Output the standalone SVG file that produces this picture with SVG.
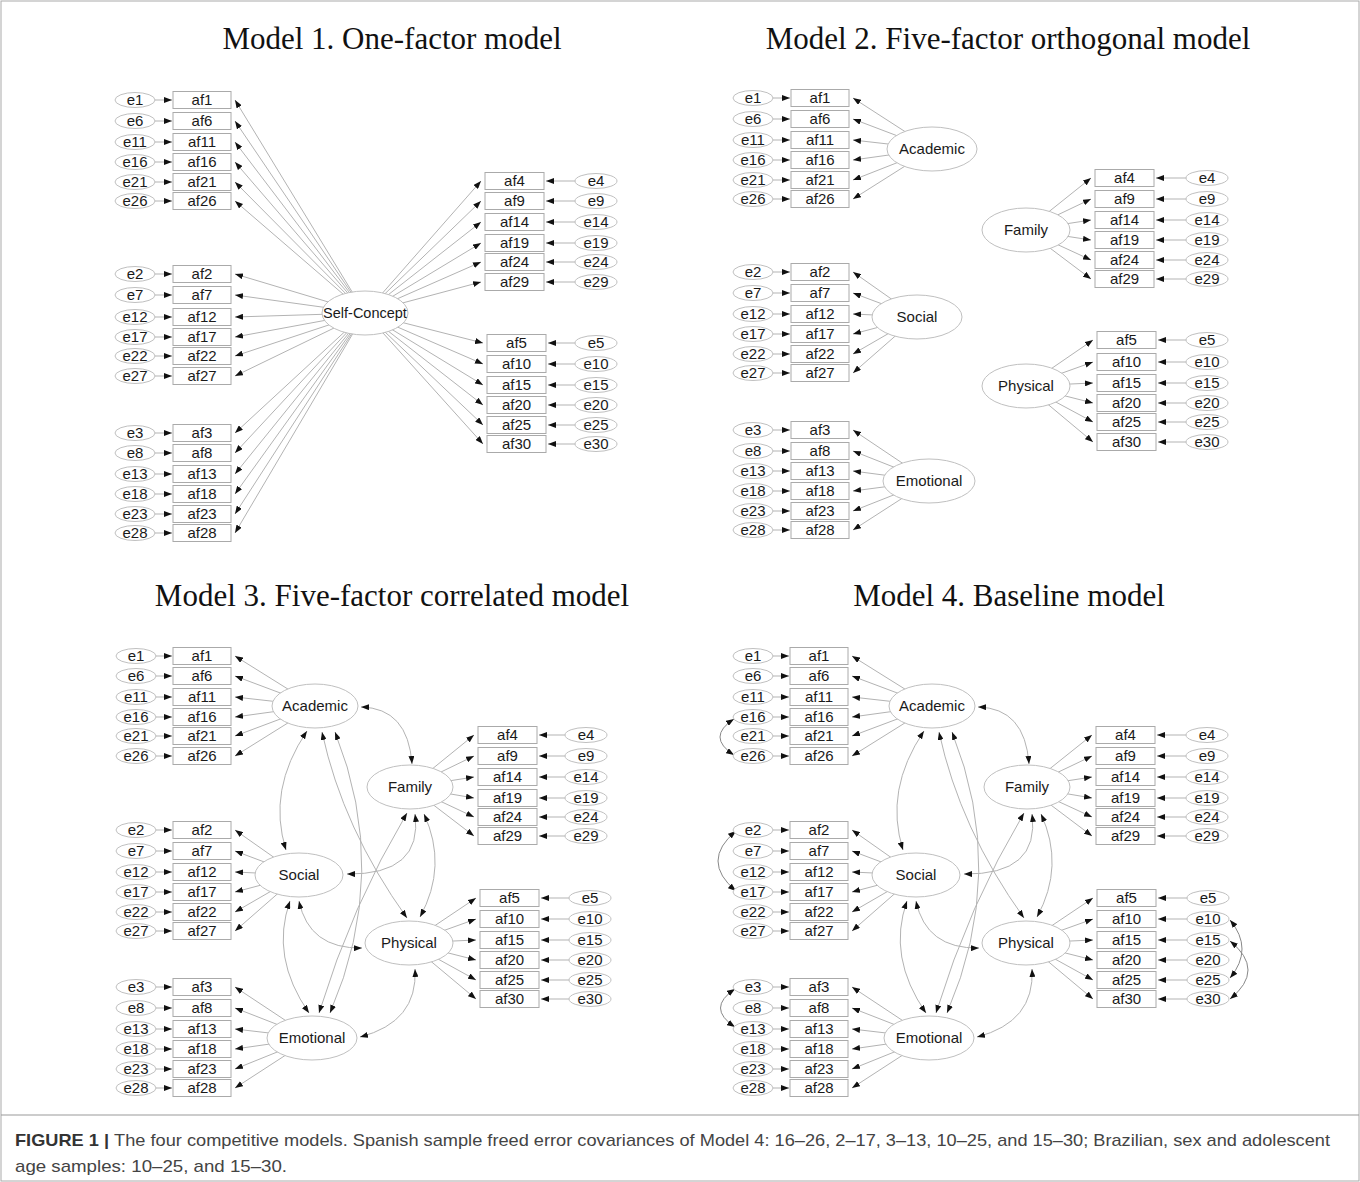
<svg xmlns="http://www.w3.org/2000/svg" width="1360" height="1182" viewBox="0 0 1360 1182">
<defs>
<marker id="ah" viewBox="0 0 8 6" refX="8" refY="3" markerWidth="8" markerHeight="6" markerUnits="userSpaceOnUse" orient="auto-start-reverse"><path d="M0,0L8,3L0,6z" fill="#111"/></marker>
<style>
.cn line,.cn path{stroke:#b3b3b3;stroke-width:1;fill:none;marker-end:url(#ah)}
.cn path.cv{marker-start:url(#ah)}
.cn path.ec{stroke:#888}
rect{fill:#fff;stroke:#aaa;stroke-width:1}
ellipse{fill:#fff;stroke:#c0c0c0;stroke-width:1}
text{font-family:"Liberation Sans",Arial,sans-serif;font-size:15px;fill:#1a1a1a;text-anchor:middle}
.f text{font-size:15px}
.ttl{font-family:"Liberation Serif","Times New Roman",serif;font-size:31px;fill:#111}
.cap{font-size:17px;text-anchor:start;fill:#444}
</style>
</defs>
<rect x="1" y="1" width="1358" height="1180" fill="#fff" stroke="#999"/>
<line x1="1" y1="1115" x2="1359" y2="1115" stroke="#999"/>
<text class="ttl" x="392" y="49">Model 1. One-factor model</text>
<text class="ttl" x="1008" y="49">Model 2. Five-factor orthogonal model</text>
<text class="ttl" x="392" y="606">Model 3. Five-factor correlated model</text>
<text class="ttl" x="1009" y="606">Model 4. Baseline model</text>

<!-- ================= MODEL 1 ================= -->
<g id="m1-connectors" class="cn">
<line x1="135" y1="100" x2="172" y2="100"/><line x1="365" y1="313" x2="235" y2="100"/>
<line x1="135" y1="121" x2="172" y2="121"/><line x1="365" y1="313" x2="235" y2="121"/>
<line x1="135" y1="142" x2="172" y2="142"/><line x1="365" y1="313" x2="235" y2="142"/>
<line x1="135" y1="162" x2="172" y2="162"/><line x1="365" y1="313" x2="235" y2="162"/>
<line x1="135" y1="182" x2="172" y2="182"/><line x1="365" y1="313" x2="235" y2="182"/>
<line x1="135" y1="201" x2="172" y2="201"/><line x1="365" y1="313" x2="235" y2="201"/>
<line x1="135" y1="274" x2="172" y2="274"/><line x1="365" y1="313" x2="235" y2="274"/>
<line x1="135" y1="295" x2="172" y2="295"/><line x1="365" y1="313" x2="235" y2="295"/>
<line x1="135" y1="317" x2="172" y2="317"/><line x1="365" y1="313" x2="235" y2="317"/>
<line x1="135" y1="337" x2="172" y2="337"/><line x1="365" y1="313" x2="235" y2="337"/>
<line x1="135" y1="356" x2="172" y2="356"/><line x1="365" y1="313" x2="235" y2="356"/>
<line x1="135" y1="376" x2="172" y2="376"/><line x1="365" y1="313" x2="235" y2="376"/>
<line x1="135" y1="433" x2="172" y2="433"/><line x1="365" y1="313" x2="235" y2="433"/>
<line x1="135" y1="453" x2="172" y2="453"/><line x1="365" y1="313" x2="235" y2="453"/>
<line x1="135" y1="474" x2="172" y2="474"/><line x1="365" y1="313" x2="235" y2="474"/>
<line x1="135" y1="494" x2="172" y2="494"/><line x1="365" y1="313" x2="235" y2="494"/>
<line x1="135" y1="514" x2="172" y2="514"/><line x1="365" y1="313" x2="235" y2="514"/>
<line x1="135" y1="533" x2="172" y2="533"/><line x1="365" y1="313" x2="235" y2="533"/>
<line x1="596" y1="181" x2="546" y2="181"/><line x1="365" y1="313" x2="481" y2="181"/>
<line x1="596" y1="201" x2="546" y2="201"/><line x1="365" y1="313" x2="481" y2="201"/>
<line x1="596" y1="222" x2="546" y2="222"/><line x1="365" y1="313" x2="481" y2="222"/>
<line x1="596" y1="243" x2="546" y2="243"/><line x1="365" y1="313" x2="481" y2="243"/>
<line x1="596" y1="262" x2="546" y2="262"/><line x1="365" y1="313" x2="481" y2="262"/>
<line x1="596" y1="282" x2="546" y2="282"/><line x1="365" y1="313" x2="481" y2="282"/>
<line x1="596" y1="343" x2="548" y2="343"/><line x1="365" y1="313" x2="483" y2="343"/>
<line x1="596" y1="364" x2="548" y2="364"/><line x1="365" y1="313" x2="483" y2="364"/>
<line x1="596" y1="385" x2="548" y2="385"/><line x1="365" y1="313" x2="483" y2="385"/>
<line x1="596" y1="405" x2="548" y2="405"/><line x1="365" y1="313" x2="483" y2="405"/>
<line x1="596" y1="425" x2="548" y2="425"/><line x1="365" y1="313" x2="483" y2="425"/>
<line x1="596" y1="444" x2="548" y2="444"/><line x1="365" y1="313" x2="483" y2="444"/>
</g>
<g id="m1-selfconcept" class="f"><ellipse cx="365" cy="313" rx="43" ry="22"/><text x="365" y="318" style="font-size:14.5px">Self-Concept</text></g>
<g id="m1-e1"><ellipse cx="135" cy="100" rx="20" ry="7.5"/><text x="135" y="105">e1</text></g><g id="m1-af1"><rect x="173" y="91.5" width="58" height="17"/><text x="202" y="105">af1</text></g>
<g id="m1-e6"><ellipse cx="135" cy="121" rx="20" ry="7.5"/><text x="135" y="126">e6</text></g><g id="m1-af6"><rect x="173" y="112.5" width="58" height="17"/><text x="202" y="126">af6</text></g>
<g id="m1-e11"><ellipse cx="135" cy="142" rx="20" ry="7.5"/><text x="135" y="147">e11</text></g><g id="m1-af11"><rect x="173" y="133.5" width="58" height="17"/><text x="202" y="147">af11</text></g>
<g id="m1-e16"><ellipse cx="135" cy="162" rx="20" ry="7.5"/><text x="135" y="167">e16</text></g><g id="m1-af16"><rect x="173" y="153.5" width="58" height="17"/><text x="202" y="167">af16</text></g>
<g id="m1-e21"><ellipse cx="135" cy="182" rx="20" ry="7.5"/><text x="135" y="187">e21</text></g><g id="m1-af21"><rect x="173" y="173.5" width="58" height="17"/><text x="202" y="187">af21</text></g>
<g id="m1-e26"><ellipse cx="135" cy="201" rx="20" ry="7.5"/><text x="135" y="206">e26</text></g><g id="m1-af26"><rect x="173" y="192.5" width="58" height="17"/><text x="202" y="206">af26</text></g>
<g id="m1-e2"><ellipse cx="135" cy="274" rx="20" ry="7.5"/><text x="135" y="279">e2</text></g><g id="m1-af2"><rect x="173" y="265.5" width="58" height="17"/><text x="202" y="279">af2</text></g>
<g id="m1-e7"><ellipse cx="135" cy="295" rx="20" ry="7.5"/><text x="135" y="300">e7</text></g><g id="m1-af7"><rect x="173" y="286.5" width="58" height="17"/><text x="202" y="300">af7</text></g>
<g id="m1-e12"><ellipse cx="135" cy="317" rx="20" ry="7.5"/><text x="135" y="322">e12</text></g><g id="m1-af12"><rect x="173" y="308.5" width="58" height="17"/><text x="202" y="322">af12</text></g>
<g id="m1-e17"><ellipse cx="135" cy="337" rx="20" ry="7.5"/><text x="135" y="342">e17</text></g><g id="m1-af17"><rect x="173" y="328.5" width="58" height="17"/><text x="202" y="342">af17</text></g>
<g id="m1-e22"><ellipse cx="135" cy="356" rx="20" ry="7.5"/><text x="135" y="361">e22</text></g><g id="m1-af22"><rect x="173" y="347.5" width="58" height="17"/><text x="202" y="361">af22</text></g>
<g id="m1-e27"><ellipse cx="135" cy="376" rx="20" ry="7.5"/><text x="135" y="381">e27</text></g><g id="m1-af27"><rect x="173" y="367.5" width="58" height="17"/><text x="202" y="381">af27</text></g>
<g id="m1-e3"><ellipse cx="135" cy="433" rx="20" ry="7.5"/><text x="135" y="438">e3</text></g><g id="m1-af3"><rect x="173" y="424.5" width="58" height="17"/><text x="202" y="438">af3</text></g>
<g id="m1-e8"><ellipse cx="135" cy="453" rx="20" ry="7.5"/><text x="135" y="458">e8</text></g><g id="m1-af8"><rect x="173" y="444.5" width="58" height="17"/><text x="202" y="458">af8</text></g>
<g id="m1-e13"><ellipse cx="135" cy="474" rx="20" ry="7.5"/><text x="135" y="479">e13</text></g><g id="m1-af13"><rect x="173" y="465.5" width="58" height="17"/><text x="202" y="479">af13</text></g>
<g id="m1-e18"><ellipse cx="135" cy="494" rx="20" ry="7.5"/><text x="135" y="499">e18</text></g><g id="m1-af18"><rect x="173" y="485.5" width="58" height="17"/><text x="202" y="499">af18</text></g>
<g id="m1-e23"><ellipse cx="135" cy="514" rx="20" ry="7.5"/><text x="135" y="519">e23</text></g><g id="m1-af23"><rect x="173" y="505.5" width="58" height="17"/><text x="202" y="519">af23</text></g>
<g id="m1-e28"><ellipse cx="135" cy="533" rx="20" ry="7.5"/><text x="135" y="538">e28</text></g><g id="m1-af28"><rect x="173" y="524.5" width="58" height="17"/><text x="202" y="538">af28</text></g>
<g id="m1-af4"><rect x="485" y="172.5" width="59" height="17"/><text x="514.5" y="186">af4</text></g><g id="m1-e4"><ellipse cx="596" cy="181" rx="21" ry="7.5"/><text x="596" y="186">e4</text></g>
<g id="m1-af9"><rect x="485" y="192.5" width="59" height="17"/><text x="514.5" y="206">af9</text></g><g id="m1-e9"><ellipse cx="596" cy="201" rx="21" ry="7.5"/><text x="596" y="206">e9</text></g>
<g id="m1-af14"><rect x="485" y="213.5" width="59" height="17"/><text x="514.5" y="227">af14</text></g><g id="m1-e14"><ellipse cx="596" cy="222" rx="21" ry="7.5"/><text x="596" y="227">e14</text></g>
<g id="m1-af19"><rect x="485" y="234.5" width="59" height="17"/><text x="514.5" y="248">af19</text></g><g id="m1-e19"><ellipse cx="596" cy="243" rx="21" ry="7.5"/><text x="596" y="248">e19</text></g>
<g id="m1-af24"><rect x="485" y="253.5" width="59" height="17"/><text x="514.5" y="267">af24</text></g><g id="m1-e24"><ellipse cx="596" cy="262" rx="21" ry="7.5"/><text x="596" y="267">e24</text></g>
<g id="m1-af29"><rect x="485" y="273.5" width="59" height="17"/><text x="514.5" y="287">af29</text></g><g id="m1-e29"><ellipse cx="596" cy="282" rx="21" ry="7.5"/><text x="596" y="287">e29</text></g>
<g id="m1-af5"><rect x="487" y="334.5" width="59" height="17"/><text x="516.5" y="348">af5</text></g><g id="m1-e5"><ellipse cx="596" cy="343" rx="21" ry="7.5"/><text x="596" y="348">e5</text></g>
<g id="m1-af10"><rect x="487" y="355.5" width="59" height="17"/><text x="516.5" y="369">af10</text></g><g id="m1-e10"><ellipse cx="596" cy="364" rx="21" ry="7.5"/><text x="596" y="369">e10</text></g>
<g id="m1-af15"><rect x="487" y="376.5" width="59" height="17"/><text x="516.5" y="390">af15</text></g><g id="m1-e15"><ellipse cx="596" cy="385" rx="21" ry="7.5"/><text x="596" y="390">e15</text></g>
<g id="m1-af20"><rect x="487" y="396.5" width="59" height="17"/><text x="516.5" y="410">af20</text></g><g id="m1-e20"><ellipse cx="596" cy="405" rx="21" ry="7.5"/><text x="596" y="410">e20</text></g>
<g id="m1-af25"><rect x="487" y="416.5" width="59" height="17"/><text x="516.5" y="430">af25</text></g><g id="m1-e25"><ellipse cx="596" cy="425" rx="21" ry="7.5"/><text x="596" y="430">e25</text></g>
<g id="m1-af30"><rect x="487" y="435.5" width="59" height="17"/><text x="516.5" y="449">af30</text></g><g id="m1-e30"><ellipse cx="596" cy="444" rx="21" ry="7.5"/><text x="596" y="449">e30</text></g>

<!-- ================= MODEL 2 ================= -->
<g id="m2-connectors" class="cn">
<line x1="753" y1="98" x2="790" y2="98"/><line x1="932" y1="149" x2="853" y2="98"/>
<line x1="753" y1="119" x2="790" y2="119"/><line x1="932" y1="149" x2="853" y2="119"/>
<line x1="753" y1="140" x2="790" y2="140"/><line x1="932" y1="149" x2="853" y2="140"/>
<line x1="753" y1="160" x2="790" y2="160"/><line x1="932" y1="149" x2="853" y2="160"/>
<line x1="753" y1="180" x2="790" y2="180"/><line x1="932" y1="149" x2="853" y2="180"/>
<line x1="753" y1="199" x2="790" y2="199"/><line x1="932" y1="149" x2="853" y2="199"/>
<line x1="753" y1="272" x2="790" y2="272"/><line x1="917" y1="317" x2="853" y2="272"/>
<line x1="753" y1="293" x2="790" y2="293"/><line x1="917" y1="317" x2="853" y2="293"/>
<line x1="753" y1="314" x2="790" y2="314"/><line x1="917" y1="317" x2="853" y2="314"/>
<line x1="753" y1="334" x2="790" y2="334"/><line x1="917" y1="317" x2="853" y2="334"/>
<line x1="753" y1="354" x2="790" y2="354"/><line x1="917" y1="317" x2="853" y2="354"/>
<line x1="753" y1="373" x2="790" y2="373"/><line x1="917" y1="317" x2="853" y2="373"/>
<line x1="753" y1="430" x2="790" y2="430"/><line x1="929" y1="481" x2="853" y2="430"/>
<line x1="753" y1="451" x2="790" y2="451"/><line x1="929" y1="481" x2="853" y2="451"/>
<line x1="753" y1="471" x2="790" y2="471"/><line x1="929" y1="481" x2="853" y2="471"/>
<line x1="753" y1="491" x2="790" y2="491"/><line x1="929" y1="481" x2="853" y2="491"/>
<line x1="753" y1="511" x2="790" y2="511"/><line x1="929" y1="481" x2="853" y2="511"/>
<line x1="753" y1="530" x2="790" y2="530"/><line x1="929" y1="481" x2="853" y2="530"/>
<line x1="1207" y1="178" x2="1156" y2="178"/><line x1="1026" y1="230" x2="1091" y2="178"/>
<line x1="1207" y1="199" x2="1156" y2="199"/><line x1="1026" y1="230" x2="1091" y2="199"/>
<line x1="1207" y1="220" x2="1156" y2="220"/><line x1="1026" y1="230" x2="1091" y2="220"/>
<line x1="1207" y1="240" x2="1156" y2="240"/><line x1="1026" y1="230" x2="1091" y2="240"/>
<line x1="1207" y1="260" x2="1156" y2="260"/><line x1="1026" y1="230" x2="1091" y2="260"/>
<line x1="1207" y1="279" x2="1156" y2="279"/><line x1="1026" y1="230" x2="1091" y2="279"/>
<line x1="1207" y1="340" x2="1158" y2="340"/><line x1="1026" y1="386" x2="1093" y2="340"/>
<line x1="1207" y1="362" x2="1158" y2="362"/><line x1="1026" y1="386" x2="1093" y2="362"/>
<line x1="1207" y1="383" x2="1158" y2="383"/><line x1="1026" y1="386" x2="1093" y2="383"/>
<line x1="1207" y1="403" x2="1158" y2="403"/><line x1="1026" y1="386" x2="1093" y2="403"/>
<line x1="1207" y1="422" x2="1158" y2="422"/><line x1="1026" y1="386" x2="1093" y2="422"/>
<line x1="1207" y1="442" x2="1158" y2="442"/><line x1="1026" y1="386" x2="1093" y2="442"/>
</g>
<g id="m2-academic" class="f"><ellipse cx="932" cy="149" rx="45" ry="22"/><text x="932" y="154">Academic</text></g>
<g id="m2-social" class="f"><ellipse cx="917" cy="317" rx="45" ry="22"/><text x="917" y="322">Social</text></g>
<g id="m2-emotional" class="f"><ellipse cx="929" cy="481" rx="46" ry="22"/><text x="929" y="486">Emotional</text></g>
<g id="m2-family" class="f"><ellipse cx="1026" cy="230" rx="44" ry="22"/><text x="1026" y="235">Family</text></g>
<g id="m2-physical" class="f"><ellipse cx="1026" cy="386" rx="44" ry="22"/><text x="1026" y="391">Physical</text></g>
<g id="m2-e1"><ellipse cx="753" cy="98" rx="20" ry="7.5"/><text x="753" y="103">e1</text></g><g id="m2-af1"><rect x="791" y="89.5" width="58" height="17"/><text x="820" y="103">af1</text></g>
<g id="m2-e6"><ellipse cx="753" cy="119" rx="20" ry="7.5"/><text x="753" y="124">e6</text></g><g id="m2-af6"><rect x="791" y="110.5" width="58" height="17"/><text x="820" y="124">af6</text></g>
<g id="m2-e11"><ellipse cx="753" cy="140" rx="20" ry="7.5"/><text x="753" y="145">e11</text></g><g id="m2-af11"><rect x="791" y="131.5" width="58" height="17"/><text x="820" y="145">af11</text></g>
<g id="m2-e16"><ellipse cx="753" cy="160" rx="20" ry="7.5"/><text x="753" y="165">e16</text></g><g id="m2-af16"><rect x="791" y="151.5" width="58" height="17"/><text x="820" y="165">af16</text></g>
<g id="m2-e21"><ellipse cx="753" cy="180" rx="20" ry="7.5"/><text x="753" y="185">e21</text></g><g id="m2-af21"><rect x="791" y="171.5" width="58" height="17"/><text x="820" y="185">af21</text></g>
<g id="m2-e26"><ellipse cx="753" cy="199" rx="20" ry="7.5"/><text x="753" y="204">e26</text></g><g id="m2-af26"><rect x="791" y="190.5" width="58" height="17"/><text x="820" y="204">af26</text></g>
<g id="m2-e2"><ellipse cx="753" cy="272" rx="20" ry="7.5"/><text x="753" y="277">e2</text></g><g id="m2-af2"><rect x="791" y="263.5" width="58" height="17"/><text x="820" y="277">af2</text></g>
<g id="m2-e7"><ellipse cx="753" cy="293" rx="20" ry="7.5"/><text x="753" y="298">e7</text></g><g id="m2-af7"><rect x="791" y="284.5" width="58" height="17"/><text x="820" y="298">af7</text></g>
<g id="m2-e12"><ellipse cx="753" cy="314" rx="20" ry="7.5"/><text x="753" y="319">e12</text></g><g id="m2-af12"><rect x="791" y="305.5" width="58" height="17"/><text x="820" y="319">af12</text></g>
<g id="m2-e17"><ellipse cx="753" cy="334" rx="20" ry="7.5"/><text x="753" y="339">e17</text></g><g id="m2-af17"><rect x="791" y="325.5" width="58" height="17"/><text x="820" y="339">af17</text></g>
<g id="m2-e22"><ellipse cx="753" cy="354" rx="20" ry="7.5"/><text x="753" y="359">e22</text></g><g id="m2-af22"><rect x="791" y="345.5" width="58" height="17"/><text x="820" y="359">af22</text></g>
<g id="m2-e27"><ellipse cx="753" cy="373" rx="20" ry="7.5"/><text x="753" y="378">e27</text></g><g id="m2-af27"><rect x="791" y="364.5" width="58" height="17"/><text x="820" y="378">af27</text></g>
<g id="m2-e3"><ellipse cx="753" cy="430" rx="20" ry="7.5"/><text x="753" y="435">e3</text></g><g id="m2-af3"><rect x="791" y="421.5" width="58" height="17"/><text x="820" y="435">af3</text></g>
<g id="m2-e8"><ellipse cx="753" cy="451" rx="20" ry="7.5"/><text x="753" y="456">e8</text></g><g id="m2-af8"><rect x="791" y="442.5" width="58" height="17"/><text x="820" y="456">af8</text></g>
<g id="m2-e13"><ellipse cx="753" cy="471" rx="20" ry="7.5"/><text x="753" y="476">e13</text></g><g id="m2-af13"><rect x="791" y="462.5" width="58" height="17"/><text x="820" y="476">af13</text></g>
<g id="m2-e18"><ellipse cx="753" cy="491" rx="20" ry="7.5"/><text x="753" y="496">e18</text></g><g id="m2-af18"><rect x="791" y="482.5" width="58" height="17"/><text x="820" y="496">af18</text></g>
<g id="m2-e23"><ellipse cx="753" cy="511" rx="20" ry="7.5"/><text x="753" y="516">e23</text></g><g id="m2-af23"><rect x="791" y="502.5" width="58" height="17"/><text x="820" y="516">af23</text></g>
<g id="m2-e28"><ellipse cx="753" cy="530" rx="20" ry="7.5"/><text x="753" y="535">e28</text></g><g id="m2-af28"><rect x="791" y="521.5" width="58" height="17"/><text x="820" y="535">af28</text></g>
<g id="m2-af4"><rect x="1095" y="169.5" width="59" height="17"/><text x="1124.5" y="183">af4</text></g><g id="m2-e4"><ellipse cx="1207" cy="178" rx="21" ry="7.5"/><text x="1207" y="183">e4</text></g>
<g id="m2-af9"><rect x="1095" y="190.5" width="59" height="17"/><text x="1124.5" y="204">af9</text></g><g id="m2-e9"><ellipse cx="1207" cy="199" rx="21" ry="7.5"/><text x="1207" y="204">e9</text></g>
<g id="m2-af14"><rect x="1095" y="211.5" width="59" height="17"/><text x="1124.5" y="225">af14</text></g><g id="m2-e14"><ellipse cx="1207" cy="220" rx="21" ry="7.5"/><text x="1207" y="225">e14</text></g>
<g id="m2-af19"><rect x="1095" y="231.5" width="59" height="17"/><text x="1124.5" y="245">af19</text></g><g id="m2-e19"><ellipse cx="1207" cy="240" rx="21" ry="7.5"/><text x="1207" y="245">e19</text></g>
<g id="m2-af24"><rect x="1095" y="251.5" width="59" height="17"/><text x="1124.5" y="265">af24</text></g><g id="m2-e24"><ellipse cx="1207" cy="260" rx="21" ry="7.5"/><text x="1207" y="265">e24</text></g>
<g id="m2-af29"><rect x="1095" y="270.5" width="59" height="17"/><text x="1124.5" y="284">af29</text></g><g id="m2-e29"><ellipse cx="1207" cy="279" rx="21" ry="7.5"/><text x="1207" y="284">e29</text></g>
<g id="m2-af5"><rect x="1097" y="331.5" width="59" height="17"/><text x="1126.5" y="345">af5</text></g><g id="m2-e5"><ellipse cx="1207" cy="340" rx="21" ry="7.5"/><text x="1207" y="345">e5</text></g>
<g id="m2-af10"><rect x="1097" y="353.5" width="59" height="17"/><text x="1126.5" y="367">af10</text></g><g id="m2-e10"><ellipse cx="1207" cy="362" rx="21" ry="7.5"/><text x="1207" y="367">e10</text></g>
<g id="m2-af15"><rect x="1097" y="374.5" width="59" height="17"/><text x="1126.5" y="388">af15</text></g><g id="m2-e15"><ellipse cx="1207" cy="383" rx="21" ry="7.5"/><text x="1207" y="388">e15</text></g>
<g id="m2-af20"><rect x="1097" y="394.5" width="59" height="17"/><text x="1126.5" y="408">af20</text></g><g id="m2-e20"><ellipse cx="1207" cy="403" rx="21" ry="7.5"/><text x="1207" y="408">e20</text></g>
<g id="m2-af25"><rect x="1097" y="413.5" width="59" height="17"/><text x="1126.5" y="427">af25</text></g><g id="m2-e25"><ellipse cx="1207" cy="422" rx="21" ry="7.5"/><text x="1207" y="427">e25</text></g>
<g id="m2-af30"><rect x="1097" y="433.5" width="59" height="17"/><text x="1126.5" y="447">af30</text></g><g id="m2-e30"><ellipse cx="1207" cy="442" rx="21" ry="7.5"/><text x="1207" y="447">e30</text></g>

<!-- ================= MODEL 3 ================= -->
<g id="m3-connectors" class="cn">
<line x1="136" y1="656" x2="172" y2="656"/><line x1="315" y1="706" x2="235" y2="656"/>
<line x1="136" y1="676" x2="172" y2="676"/><line x1="315" y1="706" x2="235" y2="676"/>
<line x1="136" y1="697" x2="172" y2="697"/><line x1="315" y1="706" x2="235" y2="697"/>
<line x1="136" y1="717" x2="172" y2="717"/><line x1="315" y1="706" x2="235" y2="717"/>
<line x1="136" y1="736" x2="172" y2="736"/><line x1="315" y1="706" x2="235" y2="736"/>
<line x1="136" y1="756" x2="172" y2="756"/><line x1="315" y1="706" x2="235" y2="756"/>
<line x1="136" y1="830" x2="172" y2="830"/><line x1="299" y1="875" x2="235" y2="830"/>
<line x1="136" y1="851" x2="172" y2="851"/><line x1="299" y1="875" x2="235" y2="851"/>
<line x1="136" y1="872" x2="172" y2="872"/><line x1="299" y1="875" x2="235" y2="872"/>
<line x1="136" y1="892" x2="172" y2="892"/><line x1="299" y1="875" x2="235" y2="892"/>
<line x1="136" y1="912" x2="172" y2="912"/><line x1="299" y1="875" x2="235" y2="912"/>
<line x1="136" y1="931" x2="172" y2="931"/><line x1="299" y1="875" x2="235" y2="931"/>
<line x1="136" y1="987" x2="172" y2="987"/><line x1="312" y1="1038" x2="235" y2="987"/>
<line x1="136" y1="1008" x2="172" y2="1008"/><line x1="312" y1="1038" x2="235" y2="1008"/>
<line x1="136" y1="1029" x2="172" y2="1029"/><line x1="312" y1="1038" x2="235" y2="1029"/>
<line x1="136" y1="1049" x2="172" y2="1049"/><line x1="312" y1="1038" x2="235" y2="1049"/>
<line x1="136" y1="1069" x2="172" y2="1069"/><line x1="312" y1="1038" x2="235" y2="1069"/>
<line x1="136" y1="1088" x2="172" y2="1088"/><line x1="312" y1="1038" x2="235" y2="1088"/>
<line x1="586" y1="735" x2="539" y2="735"/><line x1="410" y1="787" x2="474" y2="735"/>
<line x1="586" y1="756" x2="539" y2="756"/><line x1="410" y1="787" x2="474" y2="756"/>
<line x1="586" y1="777" x2="539" y2="777"/><line x1="410" y1="787" x2="474" y2="777"/>
<line x1="586" y1="798" x2="539" y2="798"/><line x1="410" y1="787" x2="474" y2="798"/>
<line x1="586" y1="817" x2="539" y2="817"/><line x1="410" y1="787" x2="474" y2="817"/>
<line x1="586" y1="836" x2="539" y2="836"/><line x1="410" y1="787" x2="474" y2="836"/>
<line x1="590" y1="898" x2="541" y2="898"/><line x1="409" y1="943" x2="476" y2="898"/>
<line x1="590" y1="919" x2="541" y2="919"/><line x1="409" y1="943" x2="476" y2="919"/>
<line x1="590" y1="940" x2="541" y2="940"/><line x1="409" y1="943" x2="476" y2="940"/>
<line x1="590" y1="960" x2="541" y2="960"/><line x1="409" y1="943" x2="476" y2="960"/>
<line x1="590" y1="980" x2="541" y2="980"/><line x1="409" y1="943" x2="476" y2="980"/>
<line x1="590" y1="999" x2="541" y2="999"/><line x1="409" y1="943" x2="476" y2="999"/>
<path class="cv" d="M361,707 Q408,708 412,764"/>
<path class="cv" d="M307,731 Q267,790 286,850"/>
<path class="cv" d="M322,732 Q343,829 407,918"/>
<path class="cv" d="M335,732 Q391,872 330,1013"/>
<path class="cv" d="M415,814 Q423,875 347,874"/>
<path class="cv" d="M424,814 Q448,866 420,917"/>
<path class="cv" d="M407,813 Q352,905 319,1013"/>
<path class="cv" d="M290,901 Q270,957 309,1013"/>
<path class="cv" d="M299,901 Q309,949 362,948"/>
<path class="cv" d="M415,969 Q418,1022 360,1037"/>
</g>
<g id="m3-academic" class="f"><ellipse cx="315" cy="706" rx="43" ry="22"/><text x="315" y="711">Academic</text></g>
<g id="m3-family" class="f"><ellipse cx="410" cy="787" rx="43" ry="22"/><text x="410" y="792">Family</text></g>
<g id="m3-social" class="f"><ellipse cx="299" cy="875" rx="44" ry="22"/><text x="299" y="880">Social</text></g>
<g id="m3-physical" class="f"><ellipse cx="409" cy="943" rx="44" ry="22"/><text x="409" y="948">Physical</text></g>
<g id="m3-emotional" class="f"><ellipse cx="312" cy="1038" rx="45" ry="22"/><text x="312" y="1043">Emotional</text></g>
<g id="m3-e1"><ellipse cx="136" cy="656" rx="20" ry="7.5"/><text x="136" y="661">e1</text></g><g id="m3-af1"><rect x="173" y="647.5" width="58" height="17"/><text x="202" y="661">af1</text></g>
<g id="m3-e6"><ellipse cx="136" cy="676" rx="20" ry="7.5"/><text x="136" y="681">e6</text></g><g id="m3-af6"><rect x="173" y="667.5" width="58" height="17"/><text x="202" y="681">af6</text></g>
<g id="m3-e11"><ellipse cx="136" cy="697" rx="20" ry="7.5"/><text x="136" y="702">e11</text></g><g id="m3-af11"><rect x="173" y="688.5" width="58" height="17"/><text x="202" y="702">af11</text></g>
<g id="m3-e16"><ellipse cx="136" cy="717" rx="20" ry="7.5"/><text x="136" y="722">e16</text></g><g id="m3-af16"><rect x="173" y="708.5" width="58" height="17"/><text x="202" y="722">af16</text></g>
<g id="m3-e21"><ellipse cx="136" cy="736" rx="20" ry="7.5"/><text x="136" y="741">e21</text></g><g id="m3-af21"><rect x="173" y="727.5" width="58" height="17"/><text x="202" y="741">af21</text></g>
<g id="m3-e26"><ellipse cx="136" cy="756" rx="20" ry="7.5"/><text x="136" y="761">e26</text></g><g id="m3-af26"><rect x="173" y="747.5" width="58" height="17"/><text x="202" y="761">af26</text></g>
<g id="m3-e2"><ellipse cx="136" cy="830" rx="20" ry="7.5"/><text x="136" y="835">e2</text></g><g id="m3-af2"><rect x="173" y="821.5" width="58" height="17"/><text x="202" y="835">af2</text></g>
<g id="m3-e7"><ellipse cx="136" cy="851" rx="20" ry="7.5"/><text x="136" y="856">e7</text></g><g id="m3-af7"><rect x="173" y="842.5" width="58" height="17"/><text x="202" y="856">af7</text></g>
<g id="m3-e12"><ellipse cx="136" cy="872" rx="20" ry="7.5"/><text x="136" y="877">e12</text></g><g id="m3-af12"><rect x="173" y="863.5" width="58" height="17"/><text x="202" y="877">af12</text></g>
<g id="m3-e17"><ellipse cx="136" cy="892" rx="20" ry="7.5"/><text x="136" y="897">e17</text></g><g id="m3-af17"><rect x="173" y="883.5" width="58" height="17"/><text x="202" y="897">af17</text></g>
<g id="m3-e22"><ellipse cx="136" cy="912" rx="20" ry="7.5"/><text x="136" y="917">e22</text></g><g id="m3-af22"><rect x="173" y="903.5" width="58" height="17"/><text x="202" y="917">af22</text></g>
<g id="m3-e27"><ellipse cx="136" cy="931" rx="20" ry="7.5"/><text x="136" y="936">e27</text></g><g id="m3-af27"><rect x="173" y="922.5" width="58" height="17"/><text x="202" y="936">af27</text></g>
<g id="m3-e3"><ellipse cx="136" cy="987" rx="20" ry="7.5"/><text x="136" y="992">e3</text></g><g id="m3-af3"><rect x="173" y="978.5" width="58" height="17"/><text x="202" y="992">af3</text></g>
<g id="m3-e8"><ellipse cx="136" cy="1008" rx="20" ry="7.5"/><text x="136" y="1013">e8</text></g><g id="m3-af8"><rect x="173" y="999.5" width="58" height="17"/><text x="202" y="1013">af8</text></g>
<g id="m3-e13"><ellipse cx="136" cy="1029" rx="20" ry="7.5"/><text x="136" y="1034">e13</text></g><g id="m3-af13"><rect x="173" y="1020.5" width="58" height="17"/><text x="202" y="1034">af13</text></g>
<g id="m3-e18"><ellipse cx="136" cy="1049" rx="20" ry="7.5"/><text x="136" y="1054">e18</text></g><g id="m3-af18"><rect x="173" y="1040.5" width="58" height="17"/><text x="202" y="1054">af18</text></g>
<g id="m3-e23"><ellipse cx="136" cy="1069" rx="20" ry="7.5"/><text x="136" y="1074">e23</text></g><g id="m3-af23"><rect x="173" y="1060.5" width="58" height="17"/><text x="202" y="1074">af23</text></g>
<g id="m3-e28"><ellipse cx="136" cy="1088" rx="20" ry="7.5"/><text x="136" y="1093">e28</text></g><g id="m3-af28"><rect x="173" y="1079.5" width="58" height="17"/><text x="202" y="1093">af28</text></g>
<g id="m3-af4"><rect x="478" y="726.5" width="59" height="17"/><text x="507.5" y="740">af4</text></g><g id="m3-e4"><ellipse cx="586" cy="735" rx="21" ry="7.5"/><text x="586" y="740">e4</text></g>
<g id="m3-af9"><rect x="478" y="747.5" width="59" height="17"/><text x="507.5" y="761">af9</text></g><g id="m3-e9"><ellipse cx="586" cy="756" rx="21" ry="7.5"/><text x="586" y="761">e9</text></g>
<g id="m3-af14"><rect x="478" y="768.5" width="59" height="17"/><text x="507.5" y="782">af14</text></g><g id="m3-e14"><ellipse cx="586" cy="777" rx="21" ry="7.5"/><text x="586" y="782">e14</text></g>
<g id="m3-af19"><rect x="478" y="789.5" width="59" height="17"/><text x="507.5" y="803">af19</text></g><g id="m3-e19"><ellipse cx="586" cy="798" rx="21" ry="7.5"/><text x="586" y="803">e19</text></g>
<g id="m3-af24"><rect x="478" y="808.5" width="59" height="17"/><text x="507.5" y="822">af24</text></g><g id="m3-e24"><ellipse cx="586" cy="817" rx="21" ry="7.5"/><text x="586" y="822">e24</text></g>
<g id="m3-af29"><rect x="478" y="827.5" width="59" height="17"/><text x="507.5" y="841">af29</text></g><g id="m3-e29"><ellipse cx="586" cy="836" rx="21" ry="7.5"/><text x="586" y="841">e29</text></g>
<g id="m3-af5"><rect x="480" y="889.5" width="59" height="17"/><text x="509.5" y="903">af5</text></g><g id="m3-e5"><ellipse cx="590" cy="898" rx="21" ry="7.5"/><text x="590" y="903">e5</text></g>
<g id="m3-af10"><rect x="480" y="910.5" width="59" height="17"/><text x="509.5" y="924">af10</text></g><g id="m3-e10"><ellipse cx="590" cy="919" rx="21" ry="7.5"/><text x="590" y="924">e10</text></g>
<g id="m3-af15"><rect x="480" y="931.5" width="59" height="17"/><text x="509.5" y="945">af15</text></g><g id="m3-e15"><ellipse cx="590" cy="940" rx="21" ry="7.5"/><text x="590" y="945">e15</text></g>
<g id="m3-af20"><rect x="480" y="951.5" width="59" height="17"/><text x="509.5" y="965">af20</text></g><g id="m3-e20"><ellipse cx="590" cy="960" rx="21" ry="7.5"/><text x="590" y="965">e20</text></g>
<g id="m3-af25"><rect x="480" y="971.5" width="59" height="17"/><text x="509.5" y="985">af25</text></g><g id="m3-e25"><ellipse cx="590" cy="980" rx="21" ry="7.5"/><text x="590" y="985">e25</text></g>
<g id="m3-af30"><rect x="480" y="990.5" width="59" height="17"/><text x="509.5" y="1004">af30</text></g><g id="m3-e30"><ellipse cx="590" cy="999" rx="21" ry="7.5"/><text x="590" y="1004">e30</text></g>

<!-- ================= MODEL 4 ================= -->
<g id="m4-error-covariances" class="cn">
<path class="cv ec" d="M734,719 Q706,737 734,755"/>
<path class="cv ec" d="M736,831 Q700,861 736,891"/>
<path class="cv ec" d="M735,989 Q706,1008 735,1027"/>
<path class="cv ec" d="M1230,920 Q1254,949 1230,978"/>
<path class="cv ec" d="M1230,941 Q1266,970 1230,999"/>
</g>
<g transform="translate(617,0)">
<g id="m4-connectors" class="cn">
<line x1="136" y1="656" x2="172" y2="656"/><line x1="315" y1="706" x2="235" y2="656"/>
<line x1="136" y1="676" x2="172" y2="676"/><line x1="315" y1="706" x2="235" y2="676"/>
<line x1="136" y1="697" x2="172" y2="697"/><line x1="315" y1="706" x2="235" y2="697"/>
<line x1="136" y1="717" x2="172" y2="717"/><line x1="315" y1="706" x2="235" y2="717"/>
<line x1="136" y1="736" x2="172" y2="736"/><line x1="315" y1="706" x2="235" y2="736"/>
<line x1="136" y1="756" x2="172" y2="756"/><line x1="315" y1="706" x2="235" y2="756"/>
<line x1="136" y1="830" x2="172" y2="830"/><line x1="299" y1="875" x2="235" y2="830"/>
<line x1="136" y1="851" x2="172" y2="851"/><line x1="299" y1="875" x2="235" y2="851"/>
<line x1="136" y1="872" x2="172" y2="872"/><line x1="299" y1="875" x2="235" y2="872"/>
<line x1="136" y1="892" x2="172" y2="892"/><line x1="299" y1="875" x2="235" y2="892"/>
<line x1="136" y1="912" x2="172" y2="912"/><line x1="299" y1="875" x2="235" y2="912"/>
<line x1="136" y1="931" x2="172" y2="931"/><line x1="299" y1="875" x2="235" y2="931"/>
<line x1="136" y1="987" x2="172" y2="987"/><line x1="312" y1="1038" x2="235" y2="987"/>
<line x1="136" y1="1008" x2="172" y2="1008"/><line x1="312" y1="1038" x2="235" y2="1008"/>
<line x1="136" y1="1029" x2="172" y2="1029"/><line x1="312" y1="1038" x2="235" y2="1029"/>
<line x1="136" y1="1049" x2="172" y2="1049"/><line x1="312" y1="1038" x2="235" y2="1049"/>
<line x1="136" y1="1069" x2="172" y2="1069"/><line x1="312" y1="1038" x2="235" y2="1069"/>
<line x1="136" y1="1088" x2="172" y2="1088"/><line x1="312" y1="1038" x2="235" y2="1088"/>
<line x1="590" y1="735" x2="540" y2="735"/><line x1="410" y1="787" x2="475" y2="735"/>
<line x1="590" y1="756" x2="540" y2="756"/><line x1="410" y1="787" x2="475" y2="756"/>
<line x1="590" y1="777" x2="540" y2="777"/><line x1="410" y1="787" x2="475" y2="777"/>
<line x1="590" y1="798" x2="540" y2="798"/><line x1="410" y1="787" x2="475" y2="798"/>
<line x1="590" y1="817" x2="540" y2="817"/><line x1="410" y1="787" x2="475" y2="817"/>
<line x1="590" y1="836" x2="540" y2="836"/><line x1="410" y1="787" x2="475" y2="836"/>
<line x1="591" y1="898" x2="541" y2="898"/><line x1="409" y1="943" x2="476" y2="898"/>
<line x1="591" y1="919" x2="541" y2="919"/><line x1="409" y1="943" x2="476" y2="919"/>
<line x1="591" y1="940" x2="541" y2="940"/><line x1="409" y1="943" x2="476" y2="940"/>
<line x1="591" y1="960" x2="541" y2="960"/><line x1="409" y1="943" x2="476" y2="960"/>
<line x1="591" y1="980" x2="541" y2="980"/><line x1="409" y1="943" x2="476" y2="980"/>
<line x1="591" y1="999" x2="541" y2="999"/><line x1="409" y1="943" x2="476" y2="999"/>
<path class="cv" d="M361,707 Q408,708 412,764"/>
<path class="cv" d="M307,731 Q267,790 286,850"/>
<path class="cv" d="M322,732 Q343,829 407,918"/>
<path class="cv" d="M335,732 Q391,872 330,1013"/>
<path class="cv" d="M415,814 Q423,875 347,874"/>
<path class="cv" d="M424,814 Q448,866 420,917"/>
<path class="cv" d="M407,813 Q352,905 319,1013"/>
<path class="cv" d="M290,901 Q270,957 309,1013"/>
<path class="cv" d="M299,901 Q309,949 362,948"/>
<path class="cv" d="M415,969 Q418,1022 360,1037"/>
</g>
<g id="m4-academic" class="f"><ellipse cx="315" cy="706" rx="43" ry="22"/><text x="315" y="711">Academic</text></g>
<g id="m4-family" class="f"><ellipse cx="410" cy="787" rx="43" ry="22"/><text x="410" y="792">Family</text></g>
<g id="m4-social" class="f"><ellipse cx="299" cy="875" rx="44" ry="22"/><text x="299" y="880">Social</text></g>
<g id="m4-physical" class="f"><ellipse cx="409" cy="943" rx="44" ry="22"/><text x="409" y="948">Physical</text></g>
<g id="m4-emotional" class="f"><ellipse cx="312" cy="1038" rx="45" ry="22"/><text x="312" y="1043">Emotional</text></g>
<g id="m4-e1"><ellipse cx="136" cy="656" rx="20" ry="7.5"/><text x="136" y="661">e1</text></g><g id="m4-af1"><rect x="173" y="647.5" width="58" height="17"/><text x="202" y="661">af1</text></g>
<g id="m4-e6"><ellipse cx="136" cy="676" rx="20" ry="7.5"/><text x="136" y="681">e6</text></g><g id="m4-af6"><rect x="173" y="667.5" width="58" height="17"/><text x="202" y="681">af6</text></g>
<g id="m4-e11"><ellipse cx="136" cy="697" rx="20" ry="7.5"/><text x="136" y="702">e11</text></g><g id="m4-af11"><rect x="173" y="688.5" width="58" height="17"/><text x="202" y="702">af11</text></g>
<g id="m4-e16"><ellipse cx="136" cy="717" rx="20" ry="7.5"/><text x="136" y="722">e16</text></g><g id="m4-af16"><rect x="173" y="708.5" width="58" height="17"/><text x="202" y="722">af16</text></g>
<g id="m4-e21"><ellipse cx="136" cy="736" rx="20" ry="7.5"/><text x="136" y="741">e21</text></g><g id="m4-af21"><rect x="173" y="727.5" width="58" height="17"/><text x="202" y="741">af21</text></g>
<g id="m4-e26"><ellipse cx="136" cy="756" rx="20" ry="7.5"/><text x="136" y="761">e26</text></g><g id="m4-af26"><rect x="173" y="747.5" width="58" height="17"/><text x="202" y="761">af26</text></g>
<g id="m4-e2"><ellipse cx="136" cy="830" rx="20" ry="7.5"/><text x="136" y="835">e2</text></g><g id="m4-af2"><rect x="173" y="821.5" width="58" height="17"/><text x="202" y="835">af2</text></g>
<g id="m4-e7"><ellipse cx="136" cy="851" rx="20" ry="7.5"/><text x="136" y="856">e7</text></g><g id="m4-af7"><rect x="173" y="842.5" width="58" height="17"/><text x="202" y="856">af7</text></g>
<g id="m4-e12"><ellipse cx="136" cy="872" rx="20" ry="7.5"/><text x="136" y="877">e12</text></g><g id="m4-af12"><rect x="173" y="863.5" width="58" height="17"/><text x="202" y="877">af12</text></g>
<g id="m4-e17"><ellipse cx="136" cy="892" rx="20" ry="7.5"/><text x="136" y="897">e17</text></g><g id="m4-af17"><rect x="173" y="883.5" width="58" height="17"/><text x="202" y="897">af17</text></g>
<g id="m4-e22"><ellipse cx="136" cy="912" rx="20" ry="7.5"/><text x="136" y="917">e22</text></g><g id="m4-af22"><rect x="173" y="903.5" width="58" height="17"/><text x="202" y="917">af22</text></g>
<g id="m4-e27"><ellipse cx="136" cy="931" rx="20" ry="7.5"/><text x="136" y="936">e27</text></g><g id="m4-af27"><rect x="173" y="922.5" width="58" height="17"/><text x="202" y="936">af27</text></g>
<g id="m4-e3"><ellipse cx="136" cy="987" rx="20" ry="7.5"/><text x="136" y="992">e3</text></g><g id="m4-af3"><rect x="173" y="978.5" width="58" height="17"/><text x="202" y="992">af3</text></g>
<g id="m4-e8"><ellipse cx="136" cy="1008" rx="20" ry="7.5"/><text x="136" y="1013">e8</text></g><g id="m4-af8"><rect x="173" y="999.5" width="58" height="17"/><text x="202" y="1013">af8</text></g>
<g id="m4-e13"><ellipse cx="136" cy="1029" rx="20" ry="7.5"/><text x="136" y="1034">e13</text></g><g id="m4-af13"><rect x="173" y="1020.5" width="58" height="17"/><text x="202" y="1034">af13</text></g>
<g id="m4-e18"><ellipse cx="136" cy="1049" rx="20" ry="7.5"/><text x="136" y="1054">e18</text></g><g id="m4-af18"><rect x="173" y="1040.5" width="58" height="17"/><text x="202" y="1054">af18</text></g>
<g id="m4-e23"><ellipse cx="136" cy="1069" rx="20" ry="7.5"/><text x="136" y="1074">e23</text></g><g id="m4-af23"><rect x="173" y="1060.5" width="58" height="17"/><text x="202" y="1074">af23</text></g>
<g id="m4-e28"><ellipse cx="136" cy="1088" rx="20" ry="7.5"/><text x="136" y="1093">e28</text></g><g id="m4-af28"><rect x="173" y="1079.5" width="58" height="17"/><text x="202" y="1093">af28</text></g>
<g id="m4-af4"><rect x="479" y="726.5" width="59" height="17"/><text x="508.5" y="740">af4</text></g><g id="m4-e4"><ellipse cx="590" cy="735" rx="21" ry="7.5"/><text x="590" y="740">e4</text></g>
<g id="m4-af9"><rect x="479" y="747.5" width="59" height="17"/><text x="508.5" y="761">af9</text></g><g id="m4-e9"><ellipse cx="590" cy="756" rx="21" ry="7.5"/><text x="590" y="761">e9</text></g>
<g id="m4-af14"><rect x="479" y="768.5" width="59" height="17"/><text x="508.5" y="782">af14</text></g><g id="m4-e14"><ellipse cx="590" cy="777" rx="21" ry="7.5"/><text x="590" y="782">e14</text></g>
<g id="m4-af19"><rect x="479" y="789.5" width="59" height="17"/><text x="508.5" y="803">af19</text></g><g id="m4-e19"><ellipse cx="590" cy="798" rx="21" ry="7.5"/><text x="590" y="803">e19</text></g>
<g id="m4-af24"><rect x="479" y="808.5" width="59" height="17"/><text x="508.5" y="822">af24</text></g><g id="m4-e24"><ellipse cx="590" cy="817" rx="21" ry="7.5"/><text x="590" y="822">e24</text></g>
<g id="m4-af29"><rect x="479" y="827.5" width="59" height="17"/><text x="508.5" y="841">af29</text></g><g id="m4-e29"><ellipse cx="590" cy="836" rx="21" ry="7.5"/><text x="590" y="841">e29</text></g>
<g id="m4-af5"><rect x="480" y="889.5" width="59" height="17"/><text x="509.5" y="903">af5</text></g><g id="m4-e5"><ellipse cx="591" cy="898" rx="21" ry="7.5"/><text x="591" y="903">e5</text></g>
<g id="m4-af10"><rect x="480" y="910.5" width="59" height="17"/><text x="509.5" y="924">af10</text></g><g id="m4-e10"><ellipse cx="591" cy="919" rx="21" ry="7.5"/><text x="591" y="924">e10</text></g>
<g id="m4-af15"><rect x="480" y="931.5" width="59" height="17"/><text x="509.5" y="945">af15</text></g><g id="m4-e15"><ellipse cx="591" cy="940" rx="21" ry="7.5"/><text x="591" y="945">e15</text></g>
<g id="m4-af20"><rect x="480" y="951.5" width="59" height="17"/><text x="509.5" y="965">af20</text></g><g id="m4-e20"><ellipse cx="591" cy="960" rx="21" ry="7.5"/><text x="591" y="965">e20</text></g>
<g id="m4-af25"><rect x="480" y="971.5" width="59" height="17"/><text x="509.5" y="985">af25</text></g><g id="m4-e25"><ellipse cx="591" cy="980" rx="21" ry="7.5"/><text x="591" y="985">e25</text></g>
<g id="m4-af30"><rect x="480" y="990.5" width="59" height="17"/><text x="509.5" y="1004">af30</text></g><g id="m4-e30"><ellipse cx="591" cy="999" rx="21" ry="7.5"/><text x="591" y="1004">e30</text></g>
</g>

<text class="cap" x="15" y="1146" textLength="1315" lengthAdjust="spacingAndGlyphs"><tspan font-weight="bold" fill="#333">FIGURE 1 | </tspan>The four competitive models. Spanish sample freed error covariances of Model 4: 16–26, 2–17, 3–13, 10–25, and 15–30; Brazilian, sex and adolescent</text>
<text class="cap" x="15" y="1172" textLength="272" lengthAdjust="spacingAndGlyphs">age samples: 10–25, and 15–30.</text>
</svg>
